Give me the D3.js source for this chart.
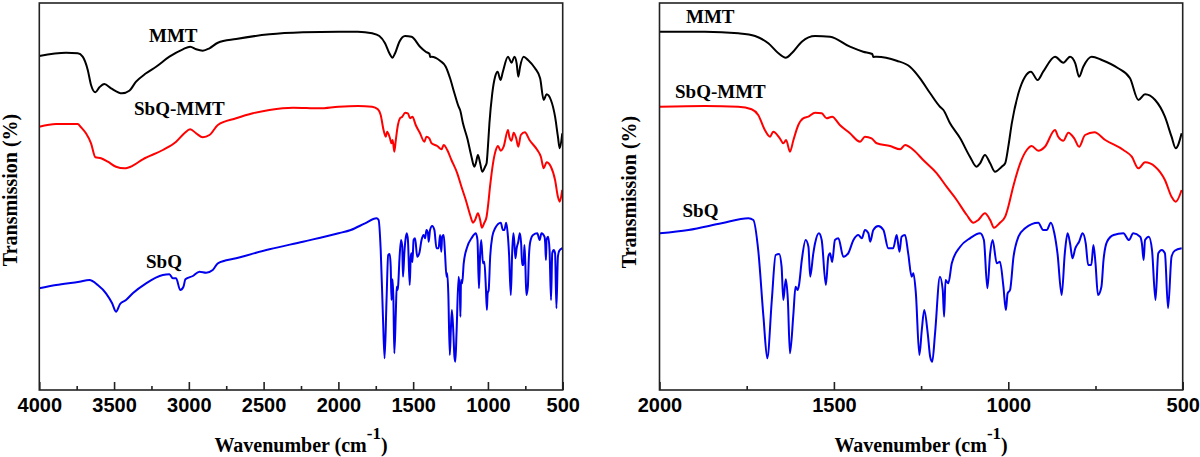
<!DOCTYPE html>
<html>
<head>
<meta charset="utf-8">
<script src="https://cdn.jsdelivr.net/npm/d3@7"></script>
<style>
  html, body { margin: 0; padding: 0; background: #fff; }
  svg { display: block; }
</style>
</head>
<body>
<svg id="chart" width="1200" height="457"></svg>
<script>
// ---- DATA (wavenumber cm^-1, transmission a.u.) ----
const seriesNames = ["MMT", "SbQ-MMT", "SbQ"];

const mmtData = [
  [4000,334],[3821,337.3],[3743,336.7],[3710,333.3],[3676,320],[3654,305],[3625,297.7],
  [3598,302.7],[3565,306],[3520,301.7],[3447,296.7],[3398,299.3],[3353,308.3],[3286,316.7],
  [3219,323.3],[3130,333.3],[3040,340.7],[2991,343.3],[2951,340.7],[2907,339.3],[2862,341.7],
  [2806,347.3],[2684,351],[2461,355.7],[2237,357.7],[1999,358.3],[1870,358.3],[1774,356.7],
  [1726,354],[1688,346.7],[1659,336.7],[1638,332.3],[1621,336.7],[1592,348.3],[1554,354],
  [1511,353.3],[1454,343.3],[1416,338.3],[1390,336],[1387,333],[1377,333.3],[1320,329.3],
  [1282,323.3],[1253,311.7],[1224,296.7],[1196,283.3],[1186,280],[1167,266.7],[1138,251.7],
  [1110,233.3],[1091,223.3],[1081,226.7],[1067,235],[1052,226.7],[1038,218.3],[1019,223.3],
  [1009,226.7],[1000,243.3],[990,266.7],[971,296.7],[952,313.3],[935,318.3],[916,310],
  [900,318.3],[866,333.3],[842,327.3],[823,333.3],[808,326.7],[797,313.3],[785,323.3],
  [761,333.3],[732,330],[685,321.7],[651,311.7],[627,290],[608,295.7],[579,290],[551,273.3],
  [532,253.3],[520,241.7],[503,256.7]
];

const sbqMmtData = [
  [4000,263.3],[3888,266],[3743,266],[3721,262.7],[3688,256.7],[3654,246.7],[3625,232.7],
  [3587,231.7],[3542,228.3],[3487,223.3],[3431,221.7],[3375,224.3],[3308,230.7],[3174,240],
  [3085,248.3],[3030,256.7],[2991,260.7],[2951,256.7],[2907,252.7],[2862,255],[2806,265],
  [2684,271.7],[2572,276.7],[2461,280],[2304,282.3],[2126,281.7],[1999,283.3],[1870,284],
  [1774,283.3],[1736,280.7],[1717,275],[1698,260],[1683,253.3],[1674,258.3],[1655,251.7],
  [1645,246.7],[1637,250],[1626,238.3],[1616,250],[1602,265],[1588,271.7],[1573,273.3],
  [1554,277.3],[1535,276.7],[1521,271.7],[1505,273.3],[1483,265],[1454,256.7],[1425,248.3],
  [1411,253.3],[1392,251.7],[1377,246.7],[1339,244],[1310,240.7],[1296,245],[1272,240],
  [1244,230],[1205,216.7],[1177,203.3],[1148,190],[1119,175],[1100,167.3],[1086,170],
  [1067,176.7],[1052,170],[1041,162.3],[1024,167.3],[1009,173.3],[1000,183.3],[986,203.3],
  [966,226.7],[947,240],[933,244],[914,239.3],[895,243.3],[866,260],[857,253.3],[842,249.3],
  [828,257.3],[811,251.7],[797,243.3],[780,255],[753,257.7],[722,250],[670,240],[646,233.3],
  [627,221.7],[608,227.7],[579,223.3],[551,210],[532,193.3],[520,188.3],[503,200]
];

const sbqData = [
  [4000,101.7],[3888,105],[3732,108.3],[3665,110],[3609,105],[3554,96.7],[3513,86.7],
  [3487,78.3],[3460,86],[3420,90],[3375,96.7],[3286,106.7],[3174,115],[3130,115.7],
  [3107,111.7],[3085,111.7],[3058,100],[3036,103.3],[3023,110.7],[2973,114],[2929,118.3],
  [2884,117.3],[2840,120],[2806,126.7],[2684,131.7],[2461,140.7],[2237,148.3],[1999,156.7],
  [1917,160],[1822,166.7],[1745,171.7],[1731,170],[1717,140],[1702,73.3],[1691,31.7],
  [1678,90],[1667,135],[1657,136],[1650,123.3],[1645,90],[1638,110.7],[1632,90],[1626,36.7],
  [1616,76.7],[1610,103.3],[1604,100],[1600,105],[1592,130],[1581,150],[1573,143.3],
  [1568,113.3],[1559,136.7],[1554,146.7],[1543,156.7],[1535,150],[1523,105],[1516,133.3],
  [1511,136.7],[1505,128],[1497,150],[1487,151.7],[1473,133.3],[1459,136.7],[1444,150],
  [1430,155],[1420,151.7],[1411,160],[1401,156.7],[1396,148.3],[1387,160],[1373,164],
  [1358,160],[1344,141.7],[1330,141.7],[1320,155],[1312,138.3],[1306,153.3],[1296,155],
  [1287,136.7],[1277,113.3],[1272,116.7],[1265,96.7],[1255,35],[1248,60],[1241,80],
  [1231,56.7],[1224,33.3],[1218,28.3],[1210,56.7],[1196,113.3],[1188,100],[1184,73.3],
  [1180,110],[1172,106.7],[1162,126.7],[1138,143.3],[1110,151.7],[1081,156.7],[1070,150],
  [1060,101.7],[1052,136.7],[1045,150],[1033,126.7],[1024,128.3],[1014,103.3],[1007,80],
  [1002,96.7],[995,100],[985,133.3],[971,153.3],[952,161.7],[914,167.3],[900,160],[890,160],
  [878,167.3],[868,156.7],[859,136.7],[847,95],[838,136.7],[830,156.7],[823,146.7],
  [816,131.7],[808,141.7],[797,148.3],[787,156.7],[778,146.7],[771,125],[762,125],[756,145],
  [750,126.7],[743,95],[733,103.3],[727,130],[717,148.3],[698,155],[670,156.7],[654,150],
  [642,156.7],[622,153.3],[617,146.7],[612,130],[608,150],[597,153.3],[588,140],[578,90],
  [570,136.7],[560,140],[551,136.7],[542,81.7],[532,133.3],[523,139.3],[503,141.7]
];

const seriesColors = ["#000000", "#ff0000", "#0000ee"];

const leftMajorTicks = [4000, 3500, 3000, 2500, 2000, 1500, 1000, 500];
const leftMinorTicks = [3750, 3250, 2750, 2250, 1750, 1250, 750];
const rightMajorTicks = [2000, 1500, 1000, 500];
const rightMinorTicks = [1750, 1250, 750];

const xTitle = "Wavenumber (cm";
const xTitleSup = "-1";
const yTitle = "Transmission (%)";

// ---- LAYOUT ----
const svg = d3.select("#chart");
const yScale = d3.scaleLinear().domain([0, 387]).range([390, 3]);

const panels = [
  { id: "L", domain: [4000, 500], range: [39.3, 562.7], major: leftMajorTicks, minor: leftMinorTicks,
    yTitleX: 17, yTitleY: 190,
    labels: [ {t: "MMT", x: 149, y: 41.5}, {t: "SbQ-MMT", x: 134, y: 115}, {t: "SbQ", x: 146, y: 268} ] },
  { id: "R", domain: [2000, 500], range: [659.5, 1182.7], major: rightMajorTicks, minor: rightMinorTicks,
    yTitleX: 636, yTitleY: 192,
    labels: [ {t: "MMT", x: 686, y: 23}, {t: "SbQ-MMT", x: 675, y: 98}, {t: "SbQ", x: 682.5, y: 216.5} ] }
];

const allSeries = [mmtData, sbqMmtData, sbqData];

panels.forEach(p => {
  const x = d3.scaleLinear().domain(p.domain).range(p.range);
  const g = svg.append("g");

  g.append("clipPath").attr("id", "clip" + p.id)
    .append("rect")
    .attr("x", p.range[0]).attr("y", yScale.range()[1])
    .attr("width", p.range[1] - p.range[0])
    .attr("height", yScale.range()[0] - yScale.range()[1]);

  const line = d3.line()
    .x(d => x(d[0]))
    .y(d => yScale(d[1]))
    .curve(d3.curveMonotoneX);

  const lines = g.append("g").attr("clip-path", `url(#clip${p.id})`);
  allSeries.forEach((data, i) => {
    const pts = data.filter(d => d[0] <= p.domain[0] + 50);
    lines.append("path")
      .datum(pts)
      .attr("d", line)
      .attr("fill", "none")
      .attr("stroke", seriesColors[i])
      .attr("stroke-width", 2)
      .attr("stroke-linejoin", "round");
  });

  // frame
  g.append("rect")
    .attr("x", p.range[0]).attr("y", yScale.range()[1])
    .attr("width", p.range[1] - p.range[0])
    .attr("height", yScale.range()[0] - yScale.range()[1])
    .attr("fill", "none").attr("stroke", "#222").attr("stroke-width", 1.6);

  // major ticks with labels
  const axMajor = d3.axisBottom(x).tickValues(p.major).tickSize(-8).tickPadding(8)
    .tickFormat(d3.format("d"));
  const gMaj = g.append("g").attr("transform", `translate(0,${yScale.range()[0]})`).call(axMajor);
  gMaj.select(".domain").remove();
  gMaj.selectAll("line").attr("stroke", "#222").attr("stroke-width", 1.6);
  gMaj.selectAll("text")
    .attr("font-family", "'Liberation Sans', Arial, sans-serif")
    .attr("font-weight", "bold")
    .attr("font-size", 20)
    .attr("fill", "#000");

  // minor ticks
  const axMinor = d3.axisBottom(x).tickValues(p.minor).tickSize(-4).tickFormat("");
  const gMin = g.append("g").attr("transform", `translate(0,${yScale.range()[0]})`).call(axMinor);
  gMin.select(".domain").remove();
  gMin.selectAll("line").attr("stroke", "#222").attr("stroke-width", 1.6);

  // x title
  const cx = (p.range[0] + p.range[1]) / 2;
  const xt = g.append("text")
    .attr("x", cx).attr("y", 451.5)
    .attr("text-anchor", "middle")
    .attr("font-family", "'Liberation Serif', 'Times New Roman', serif")
    .attr("font-weight", "bold")
    .attr("font-size", 20)
    .attr("fill", "#000");
  xt.append("tspan").text(xTitle);
  xt.append("tspan").attr("dy", -13).attr("font-size", 17).text(xTitleSup);
  xt.append("tspan").attr("dy", 13).text(")");

  // y title
  g.append("text")
    .attr("transform", `translate(${p.yTitleX},${p.yTitleY}) rotate(-90)`)
    .attr("text-anchor", "middle")
    .attr("font-family", "'Liberation Serif', 'Times New Roman', serif")
    .attr("font-weight", "bold")
    .attr("font-size", 20)
    .attr("fill", "#000")
    .text(yTitle);

  // series labels
  p.labels.forEach(l => {
    g.append("text")
      .attr("x", l.x).attr("y", l.y)
      .attr("font-family", "'Liberation Serif', 'Times New Roman', serif")
      .attr("font-weight", "bold")
      .attr("font-size", 19)
      .attr("fill", "#000")
      .text(l.t);
  });
});
</script>
</body>
</html>
